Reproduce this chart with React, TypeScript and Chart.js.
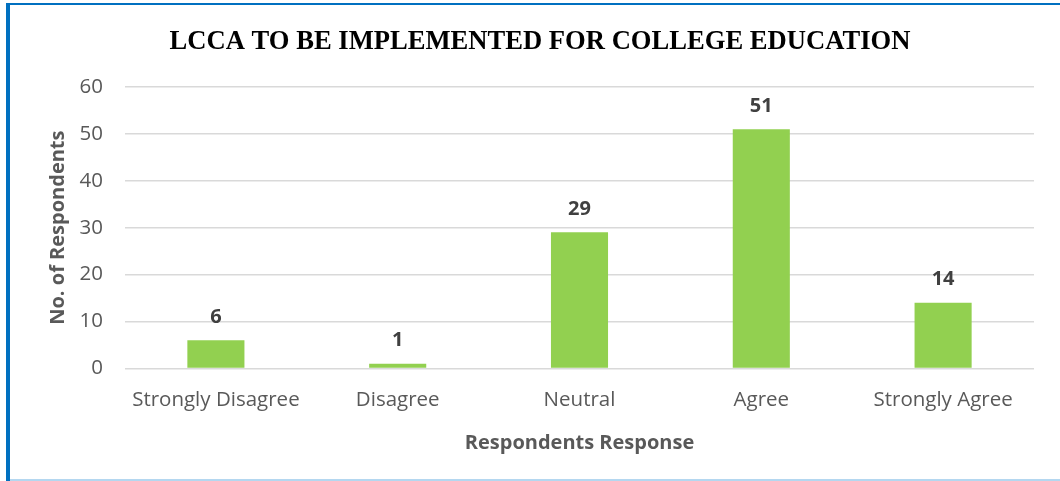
import React, { useEffect, useRef } from "react";
import { Chart, registerables } from "chart.js";

Chart.register(...registerables);

const categories = ["Strongly Disagree", "Disagree", "Neutral", "Agree", "Strongly Agree"];
const respondents = [6, 1, 29, 51, 14];
const yTicks = [0, 10, 20, 30, 40, 50, 60];
const chartTitle = "LCCA TO BE IMPLEMENTED FOR COLLEGE EDUCATION";
const xTitle = "Respondents Response";
const yTitle = "No. of Respondents";

const SANS = "'Open Sans', 'Noto Sans', sans-serif";

const valueLabels = {
  id: "valueLabels",
  afterDatasetsDraw(chart: any) {
    const ctx = chart.ctx;
    const meta = chart.getDatasetMeta(0);
    ctx.save();
    ctx.font = `bold 20px ${SANS}`;
    ctx.fillStyle = "#404040";
    ctx.textAlign = "center";
    ctx.textBaseline = "middle";
    meta.data.forEach((el: any, i: number) => {
      ctx.fillText(String(chart.data.datasets[0].data[i]), el.x, el.y - 23);
    });
    ctx.restore();
  },
};

export default function App() {
  const ref = useRef<HTMLCanvasElement | null>(null);
  useEffect(() => {
    if (!ref.current) return;
    const chart = new Chart(ref.current, {
      type: "bar",
      data: {
        labels: categories,
        datasets: [
          {
            data: respondents,
            backgroundColor: "#92d050",
            borderWidth: 0,
            categoryPercentage: 1,
            barPercentage: 0.314,
          },
        ],
      },
      options: {
        animation: false,
        responsive: false,
        maintainAspectRatio: false,
        layout: { padding: { left: 36, right: 26, top: 0, bottom: 24 } },
        plugins: {
          legend: { display: false },
          tooltip: { enabled: false },
          title: {
            display: true,
            text: chartTitle,
            color: "#000000",
            font: { family: "'Liberation Serif', 'Times New Roman', serif", size: 26.6, weight: "bold" },
            padding: { top: 21, bottom: 29 },
          },
        },
        scales: {
          x: {
            grid: { display: false, drawTicks: false },
            border: { display: false },
            ticks: { color: "#595959", font: { family: SANS, size: 20.5 }, padding: 19, maxRotation: 0 },
            title: {
              display: true,
              text: xTitle,
              color: "#595959",
              font: { family: SANS, size: 20, weight: "bold" },
              padding: { top: 0, bottom: 0 },
            },
          },
          y: {
            min: 0,
            max: 60,
            afterBuildTicks(scale: any) {
              scale.ticks = yTicks.map((v) => ({ value: v }));
            },
            afterFit(scale: any) {
              scale.width = 79;
            },
            grid: { color: "#d9d9d9", lineWidth: 1.5, drawTicks: false },
            border: { display: false },
            ticks: { color: "#595959", font: { family: SANS, size: 20.5 }, padding: 22 },
            title: {
              display: true,
              text: yTitle,
              color: "#595959",
              font: { family: SANS, size: 20, weight: "bold" },
              padding: 0,
            },
          },
        },
      },
      plugins: [valueLabels],
    });
    return () => chart.destroy();
  }, []);

  return (
    <div style={{ position: "absolute", left: 0, top: 0, width: 1060, height: 481, background: "#ffffff", overflow: "hidden" }}>
      <div style={{ position: "absolute", left: 6, top: 3, width: 1054, height: 2, background: "#0070c0" }} />
      <div style={{ position: "absolute", left: 6, top: 3, width: 4, height: 478, background: "#0070c0" }} />
      <div style={{ position: "absolute", left: 10, top: 479, width: 1050, height: 2, background: "#b4d7f0" }} />
      <canvas ref={ref} width={1050} height={474} style={{ position: "absolute", left: 10, top: 5, width: 1050, height: 474 }} />
    </div>
  );
}
